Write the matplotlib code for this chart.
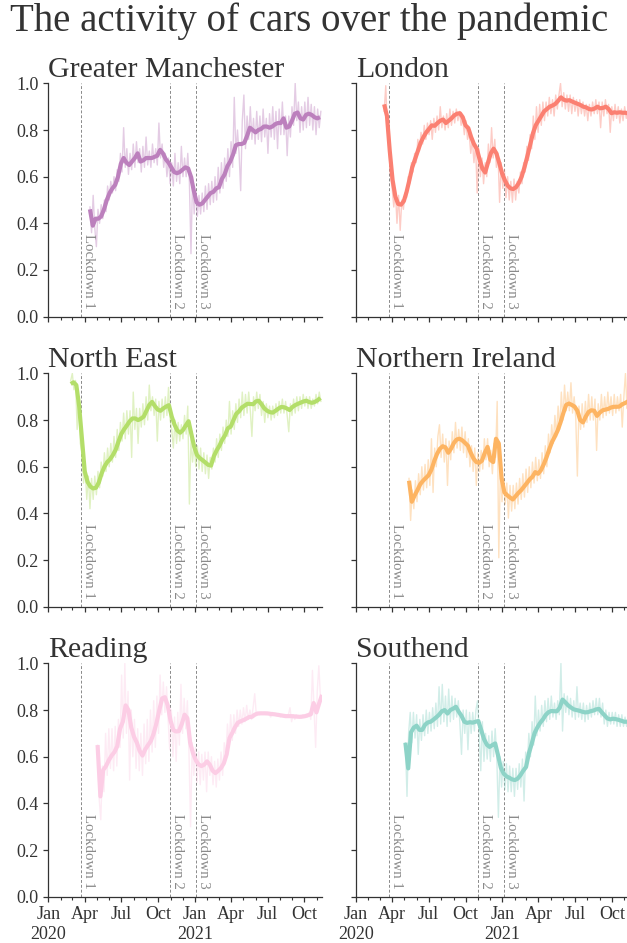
import matplotlib
matplotlib.use('Agg')
import matplotlib.pyplot as plt
import matplotlib.dates as mdates
from matplotlib.ticker import FuncFormatter
import pandas as pd

plt.rcParams['font.family'] = ['Liberation Serif', 'DejaVu Serif']

# ---- data ----
regions = ['Greater Manchester', 'London', 'North East',
           'Northern Ireland', 'Reading', 'Southend']
colours = ['#bc80bd', '#fb8072', '#b3de69', '#fdb462', '#fccde5', '#8dd3c7']
starts = ['2020-04-14', '2020-03-12', '2020-02-26',
          '2020-05-13', '2020-05-03', '2020-05-04']

lockdown_dates = ['2020-03-23', '2020-10-31', '2021-01-04']
lockdown_labels = ['Lockdown 1', 'Lockdown 2', 'Lockdown 3']

# weekly smoothed activity
gm_smooth = [0.46, 0.39, 0.42, 0.42, 0.43, 0.46, 0.50, 0.53, 0.55, 0.565,
             0.60, 0.655, 0.68, 0.66, 0.65, 0.665, 0.68, 0.70, 0.665, 0.67,
             0.68, 0.68, 0.68, 0.685, 0.69, 0.715, 0.70, 0.675, 0.66, 0.64,
             0.62, 0.615, 0.62, 0.63, 0.64, 0.635, 0.60, 0.54, 0.49, 0.48,
             0.485, 0.50, 0.515, 0.53, 0.535, 0.55, 0.555, 0.59, 0.61, 0.645,
             0.665, 0.695, 0.735, 0.74, 0.74, 0.745, 0.775, 0.81, 0.80, 0.79,
             0.80, 0.805, 0.815, 0.815, 0.81, 0.815, 0.825, 0.83, 0.83, 0.85,
             0.81, 0.815, 0.84, 0.87, 0.875, 0.85, 0.845, 0.865, 0.87, 0.865,
             0.855, 0.85, 0.855]
london_smooth = [0.91, 0.86, 0.71, 0.586, 0.514, 0.483, 0.48, 0.495, 0.535, 0.586,
                 0.64, 0.675, 0.71, 0.745, 0.77, 0.79, 0.805, 0.82, 0.818, 0.83,
                 0.84, 0.845, 0.83, 0.84, 0.85, 0.863, 0.87, 0.872, 0.855, 0.82,
                 0.808, 0.77, 0.74, 0.72, 0.675, 0.635, 0.618, 0.66, 0.70, 0.72,
                 0.70, 0.66, 0.615, 0.585, 0.562, 0.55, 0.547, 0.555, 0.573, 0.60,
                 0.64, 0.686, 0.735, 0.785, 0.82, 0.84, 0.86, 0.88, 0.89, 0.90,
                 0.905, 0.912, 0.925, 0.94, 0.93, 0.926, 0.928, 0.922, 0.917, 0.912,
                 0.907, 0.90, 0.897, 0.89, 0.888, 0.892, 0.90, 0.893, 0.895, 0.90,
                 0.89, 0.872, 0.876, 0.874, 0.876, 0.874, 0.874, 0.871]
ne_smooth = [0.955, 0.962, 0.95, 0.86, 0.72, 0.58, 0.535, 0.515, 0.507, 0.51,
             0.532, 0.571, 0.60, 0.62, 0.632, 0.65, 0.672, 0.707, 0.74, 0.76,
             0.777, 0.795, 0.807, 0.807, 0.80, 0.806, 0.815, 0.84, 0.865, 0.878,
             0.86, 0.845, 0.84, 0.85, 0.858, 0.864, 0.815, 0.78, 0.755, 0.746,
             0.757, 0.777, 0.795, 0.74, 0.686, 0.65, 0.637, 0.628, 0.618, 0.608,
             0.605, 0.645, 0.67, 0.69, 0.716, 0.735, 0.765, 0.772, 0.80, 0.827,
             0.838, 0.854, 0.862, 0.87, 0.869, 0.868, 0.88, 0.883, 0.868, 0.85,
             0.84, 0.834, 0.832, 0.84, 0.849, 0.856, 0.855, 0.85, 0.843, 0.856,
             0.864, 0.87, 0.875, 0.88, 0.883, 0.877, 0.874, 0.878, 0.885, 0.895]
ni_smooth = [0.54, 0.45, 0.477, 0.50, 0.525, 0.54, 0.552, 0.564, 0.588, 0.625,
             0.655, 0.677, 0.688, 0.683, 0.66, 0.678, 0.702, 0.717, 0.72, 0.713,
             0.702, 0.69, 0.66, 0.635, 0.62, 0.617, 0.626, 0.66, 0.685, 0.63,
             0.62, 0.72, 0.70, 0.55, 0.49, 0.478, 0.468, 0.46, 0.474, 0.488,
             0.50, 0.515, 0.53, 0.546, 0.557, 0.577, 0.57, 0.585, 0.61, 0.64,
             0.675, 0.707, 0.73, 0.756, 0.79, 0.83, 0.865, 0.871, 0.865, 0.858,
             0.84, 0.80, 0.79, 0.815, 0.835, 0.842, 0.84, 0.818, 0.832, 0.842,
             0.845, 0.848, 0.854, 0.857, 0.857, 0.858, 0.868, 0.873, 0.88]
reading_smooth = [0.65, 0.43, 0.543, 0.56, 0.585, 0.605, 0.62, 0.645, 0.72, 0.75,
                  0.82, 0.80, 0.725, 0.685, 0.66, 0.625, 0.605, 0.632, 0.65, 0.668,
                  0.70, 0.745, 0.80, 0.85, 0.855, 0.82, 0.755, 0.714, 0.708, 0.71,
                  0.74, 0.78, 0.765, 0.66, 0.615, 0.585, 0.567, 0.56, 0.566, 0.58,
                  0.566, 0.54, 0.53, 0.54, 0.552, 0.572, 0.61, 0.68, 0.702, 0.727,
                  0.746, 0.752, 0.757, 0.763, 0.77, 0.771, 0.78, 0.785, 0.786, 0.786,
                  0.786, 0.785, 0.783, 0.782, 0.78, 0.778, 0.776, 0.774, 0.774, 0.774,
                  0.773, 0.772, 0.771, 0.772, 0.774, 0.778, 0.782, 0.83, 0.79, 0.83,
                  0.865]
southend_smooth = [0.66, 0.55, 0.705, 0.725, 0.733, 0.715, 0.715, 0.737, 0.747, 0.75,
                   0.759, 0.769, 0.78, 0.795, 0.80, 0.785, 0.80, 0.806, 0.814, 0.793,
                   0.775, 0.75, 0.745, 0.748, 0.746, 0.75, 0.753, 0.715, 0.676, 0.652,
                   0.642, 0.65, 0.657, 0.607, 0.553, 0.528, 0.516, 0.51, 0.503, 0.50,
                   0.506, 0.521, 0.54, 0.556, 0.614, 0.655, 0.70, 0.725, 0.745, 0.76,
                   0.779, 0.791, 0.796, 0.795, 0.795, 0.81, 0.845, 0.833, 0.82, 0.811,
                   0.803, 0.80, 0.797, 0.793, 0.79, 0.791, 0.795, 0.798, 0.803, 0.805,
                   0.79, 0.777, 0.764, 0.76, 0.763, 0.761, 0.758, 0.754, 0.75, 0.75]

# raw activity, every 4 days
gm_raw = [0.47, 0.36, 0.52, 0.38, 0.30, 0.46, 0.40, 0.48, 0.42, 0.50,
          0.45, 0.56, 0.50, 0.58, 0.53, 0.60, 0.54, 0.63, 0.58, 0.70,
          0.62, 0.81, 0.64, 0.72, 0.61, 0.70, 0.63, 0.74, 0.64, 0.75,
          0.66, 0.72, 0.62, 0.73, 0.64, 0.77, 0.65, 0.71, 0.64, 0.74,
          0.66, 0.72, 0.65, 0.83, 0.68, 0.74, 0.64, 0.70, 0.60, 0.68,
          0.57, 0.66, 0.56, 0.70, 0.58, 0.66, 0.57, 0.73, 0.60, 0.68,
          0.60, 0.70, 0.58, 0.27, 0.60, 0.44, 0.54, 0.43, 0.52, 0.44,
          0.53, 0.45, 0.56, 0.46, 0.57, 0.48, 0.58, 0.49, 0.60, 0.50,
          0.64, 0.53, 0.66, 0.55, 0.68, 0.58, 0.72, 0.60, 0.75, 0.64,
          0.94, 0.70, 0.80, 0.70, 0.54, 0.84, 0.95, 0.72, 0.86, 0.76,
          0.90, 0.76, 0.85, 0.74, 0.88, 0.76, 0.86, 0.75, 0.89, 0.77,
          0.85, 0.70, 0.87, 0.77, 0.90, 0.76, 0.88, 0.72, 0.89, 0.78,
          0.92, 0.78, 0.86, 0.69, 0.86, 0.77, 0.90, 0.82, 1.00, 0.84,
          0.92, 0.79, 0.90, 0.80, 0.92, 0.81, 0.94, 0.82, 0.91, 0.80,
          0.90, 0.78, 0.89, 0.81, 0.88]
london_raw = [0.88, 0.99, 0.80, 0.72, 0.60, 0.55, 0.47, 0.54, 0.40, 0.52,
              0.37, 0.50, 0.46, 0.53, 0.51, 0.60, 0.57, 0.66, 0.62, 0.70,
              0.66, 0.76, 0.71, 0.79, 0.74, 0.82, 0.76, 0.83, 0.78, 0.84,
              0.76, 0.85, 0.79, 0.86, 0.80, 0.90, 0.81, 0.86, 0.80, 0.87,
              0.81, 0.89, 0.82, 0.88, 0.83, 0.89, 0.84, 0.88, 0.82, 0.85,
              0.78, 0.84, 0.76, 0.79, 0.70, 0.76, 0.66, 0.74, 0.53, 0.72,
              0.60, 0.68, 0.57, 0.66, 0.60, 0.74, 0.66, 0.81, 0.68, 0.76,
              0.64, 0.70, 0.49, 0.66, 0.55, 0.63, 0.51, 0.60, 0.50, 0.58,
              0.49, 0.59, 0.50, 0.58, 0.53, 0.62, 0.57, 0.66, 0.62, 0.73,
              0.67, 0.78, 0.72, 0.86, 0.76, 0.90, 0.79, 0.91, 0.82, 0.92,
              0.84, 0.92, 0.86, 0.94, 0.87, 0.93, 0.86, 0.95, 0.89, 0.95,
              1.00, 0.90, 0.96, 0.89, 0.95, 0.88, 0.95, 0.87, 0.94, 0.88,
              0.93, 0.86, 0.93, 0.87, 0.92, 0.86, 0.91, 0.84, 0.91, 0.86,
              0.92, 0.87, 0.93, 0.87, 0.92, 0.81, 0.92, 0.86, 0.93, 0.87,
              0.91, 0.79, 0.90, 0.84, 0.91, 0.85, 0.90, 0.83, 0.89, 0.84,
              0.90, 0.85, 0.89]
ne_raw = [0.97, 1.00, 0.93, 0.97, 0.76, 0.90, 0.70, 0.66, 0.53, 0.60,
          0.46, 0.56, 0.42, 0.55, 0.46, 0.56, 0.48, 0.58, 0.51, 0.62,
          0.56, 0.66, 0.58, 0.68, 0.60, 0.70, 0.62, 0.73, 0.64, 0.76,
          0.67, 0.79, 0.71, 0.83, 0.72, 0.84, 0.74, 0.84, 0.64, 0.92,
          0.76, 0.85, 0.70, 0.85, 0.77, 0.87, 0.78, 0.90, 0.80, 0.95,
          0.84, 0.90, 0.82, 0.89, 0.71, 0.88, 0.80, 0.89, 0.81, 0.90,
          0.82, 0.94, 0.80, 0.76, 0.68, 0.80, 0.70, 0.79, 0.71, 0.78,
          0.72, 0.82, 0.74, 0.86, 0.44, 0.72, 0.62, 0.70, 0.60, 0.69,
          0.59, 0.68, 0.58, 0.66, 0.57, 0.65, 0.55, 0.64, 0.59, 0.68,
          0.62, 0.72, 0.64, 0.74, 0.67, 0.77, 0.70, 0.80, 0.73, 0.88,
          0.74, 0.84, 0.76, 0.87, 0.79, 0.89, 0.81, 0.92, 0.82, 0.91,
          0.83, 0.92, 0.84, 0.73, 0.90, 0.84, 0.92, 0.85, 0.91, 0.82,
          0.88, 0.79, 0.87, 0.81, 0.86, 0.80, 0.86, 0.81, 0.87, 0.82,
          0.88, 0.83, 0.89, 0.83, 0.88, 0.82, 0.75, 0.87, 0.82, 0.89,
          0.83, 0.90, 0.84, 0.90, 0.85, 0.91, 0.86, 0.90, 0.85, 0.90,
          0.85, 0.89, 0.86, 0.91, 0.87, 0.92, 0.88]
ni_raw = [0.55, 0.37, 0.50, 0.42, 0.54, 0.45, 0.57, 0.48, 0.60, 0.50,
          0.61, 0.51, 0.63, 0.52, 0.72, 0.49, 0.68, 0.60, 0.73, 0.78,
          0.64, 0.74, 0.62, 0.72, 0.52, 0.71, 0.63, 0.75, 0.66, 0.79,
          0.68, 0.76, 0.67, 0.77, 0.66, 0.75, 0.64, 0.72, 0.60, 0.69,
          0.58, 0.68, 0.52, 0.66, 0.58, 0.67, 0.59, 0.72, 0.63, 0.72,
          0.60, 0.67, 0.57, 0.70, 0.64, 0.88, 0.21, 0.60, 0.45, 0.55,
          0.44, 0.53, 0.38, 0.52, 0.41, 0.52, 0.42, 0.53, 0.44, 0.55,
          0.46, 0.57, 0.47, 0.59, 0.49, 0.60, 0.51, 0.62, 0.53, 0.64,
          0.54, 0.63, 0.55, 0.66, 0.57, 0.69, 0.60, 0.74, 0.66, 0.78,
          0.70, 0.82, 0.73, 0.86, 0.76, 0.92, 0.80, 0.95, 0.84, 0.92,
          0.84, 0.96, 0.83, 0.90, 0.81, 0.56, 0.86, 0.76, 0.87, 0.77,
          0.88, 0.79, 0.91, 0.80, 0.90, 0.80, 0.89, 0.67, 0.87, 0.80,
          0.91, 0.81, 0.90, 0.82, 0.92, 0.83, 0.90, 0.82, 0.91, 0.83,
          0.90, 0.84, 0.91, 0.77, 0.90, 1.00, 0.85, 0.90]
reading_raw = [0.65, 0.42, 0.33, 0.56, 0.45, 0.70, 0.52, 0.72, 0.55, 0.72,
               0.54, 0.73, 0.56, 0.76, 0.64, 0.95, 0.68, 1.00, 0.70, 0.88,
               0.50, 0.80, 0.60, 0.76, 0.55, 0.72, 0.54, 0.70, 0.52, 0.74,
               0.57, 0.76, 0.58, 0.80, 0.62, 0.84, 0.64, 0.86, 0.70, 0.95,
               0.78, 0.92, 0.79, 0.90, 0.76, 0.63, 0.80, 0.60, 0.77, 0.58,
               0.79, 0.65, 0.91, 0.70, 0.85, 0.72, 0.84, 0.62, 0.30, 0.66,
               0.52, 0.64, 0.49, 0.62, 0.48, 0.61, 0.50, 0.62, 0.45, 0.62,
               0.52, 0.60, 0.48, 0.58, 0.47, 0.59, 0.50, 0.62, 0.52, 0.66,
               0.60, 0.74, 0.65, 0.78, 0.67, 0.78, 0.70, 0.80, 0.73, 0.80,
               0.74, 0.81, 0.75, 0.82, 0.76, 0.80, 0.76, 0.81, 0.87, 0.78,
               0.79, 0.78, 0.79, 0.785, 0.79, 0.78, 0.79, 0.78, 0.77, 0.79,
               0.78, 0.785, 0.775, 0.785, 0.77, 0.78, 0.77, 0.78, 0.77, 0.78,
               0.81, 0.75, 0.78, 0.76, 0.78, 0.77, 0.775, 0.765, 0.78, 0.77,
               0.78, 0.77, 0.79, 0.76, 0.97, 0.80, 0.64, 0.88, 0.99, 0.85]
southend_raw = [0.66, 0.43, 0.70, 0.79, 0.66, 0.79, 0.68, 0.78, 0.61, 0.76,
                0.67, 0.78, 0.69, 0.80, 0.70, 0.79, 0.71, 0.81, 0.72, 0.83,
                0.73, 0.90, 0.74, 0.91, 0.75, 0.86, 0.73, 0.89, 0.75, 0.86,
                0.76, 0.85, 0.77, 0.84, 0.74, 0.61, 0.80, 0.70, 0.80, 0.63,
                0.79, 0.70, 0.79, 0.71, 0.80, 0.84, 0.70, 0.54, 0.75, 0.58,
                0.70, 0.59, 0.69, 0.58, 0.71, 0.60, 0.72, 0.60, 0.34, 0.60,
                0.47, 0.58, 0.46, 0.57, 0.45, 0.56, 0.45, 0.55, 0.43, 0.55,
                0.46, 0.57, 0.47, 0.59, 0.41, 0.62, 0.56, 0.70, 0.60, 0.75,
                0.65, 0.86, 0.69, 0.80, 0.71, 0.82, 0.73, 0.84, 0.75, 0.85,
                0.76, 0.86, 0.77, 0.83, 0.76, 0.84, 0.78, 1.00, 0.71, 0.87,
                0.79, 0.86, 0.78, 0.85, 0.77, 0.84, 0.76, 0.90, 0.77, 0.83,
                0.76, 0.83, 0.75, 0.82, 0.76, 0.83, 0.77, 0.84, 0.78, 0.85,
                0.78, 0.85, 0.77, 0.83, 0.74, 0.80, 0.73, 0.79, 0.74, 0.79,
                0.74, 0.79, 0.73, 0.78, 0.73, 0.78, 0.73, 0.77, 0.73, 0.76]

smooth_series = [gm_smooth, london_smooth, ne_smooth, ni_smooth, reading_smooth, southend_smooth]
raw_series = [gm_raw, london_raw, ne_raw, ni_raw, reading_raw, southend_raw]


def month_label(x, pos):
    d = mdates.num2date(x)
    if d.month == 1:
        return d.strftime('%b') + '\n' + str(d.year)
    return d.strftime('%b')


fig = plt.figure(figsize=(6.27, 9.43), dpi=100)
fig.text(0.493, 0.997, 'The activity of cars over the pandemic',
         ha='center', va='top', fontsize=28, color='#333333')

lefts = [0.077, 0.5673]
bottoms = [0.6642, 0.3566, 0.0491]
w, h = 0.436, 0.2474
text_col = '#333333'

axes = []
for i, name in enumerate(regions):
    row, col = divmod(i, 2)
    ax = fig.add_axes([lefts[col], bottoms[row], w, h],
                      sharex=axes[0] if axes else None,
                      sharey=axes[0] if axes else None)
    axes.append(ax)

    for d, lab in zip(lockdown_dates, lockdown_labels):
        dt = pd.Timestamp(d)
        ax.axvline(dt, color='#8a8a8a', lw=0.7, ls=(0, (3, 2)), zorder=1)
        ax.text(dt + pd.Timedelta(days=3), 0.355, lab, rotation=270,
                ha='left', va='top', fontsize=10.7, color='#8a8a8a')

    raw = raw_series[i]
    sm = smooth_series[i]
    raw_dates = pd.date_range(starts[i], periods=len(raw), freq='4D')
    sm_dates = pd.date_range(starts[i], periods=len(sm), freq='7D')
    ax.plot(raw_dates, raw, color=colours[i], lw=1.0, alpha=0.4, zorder=2)
    ax.plot(sm_dates, sm, color=colours[i], lw=3.0, zorder=3,
            solid_joinstyle='round', solid_capstyle='butt')

    ax.set_title(name, loc='left', fontsize=21.5, color=text_col, pad=4)
    ax.set_ylim(0, 1)
    ax.set_xlim(pd.Timestamp('2020-01-01'), pd.Timestamp('2021-11-13'))
    ax.set_yticks([0.0, 0.2, 0.4, 0.6, 0.8, 1.0])
    ax.xaxis.set_major_locator(mdates.MonthLocator(bymonth=[1, 4, 7, 10]))
    ax.xaxis.set_minor_locator(mdates.MonthLocator())
    ax.xaxis.set_major_formatter(FuncFormatter(month_label))

    for side in ['top', 'right']:
        ax.spines[side].set_visible(False)
    for side in ['left', 'bottom']:
        ax.spines[side].set_color(text_col)
        ax.spines[side].set_linewidth(0.9)
    ax.tick_params(which='major', direction='out', length=3.5, width=0.9,
                   color=text_col, labelsize=13, labelcolor=text_col, pad=3.5)
    ax.tick_params(which='minor', direction='out', length=2.5, width=0.8,
                   color=text_col)
    ax.tick_params(axis='y', labelleft=(col == 0))
    ax.tick_params(axis='x', labelbottom=(row == 2))
    ax.yaxis.set_major_formatter(FuncFormatter(lambda v, p: '%.1f' % v))

fig.savefig('out.png', dpi=100)
